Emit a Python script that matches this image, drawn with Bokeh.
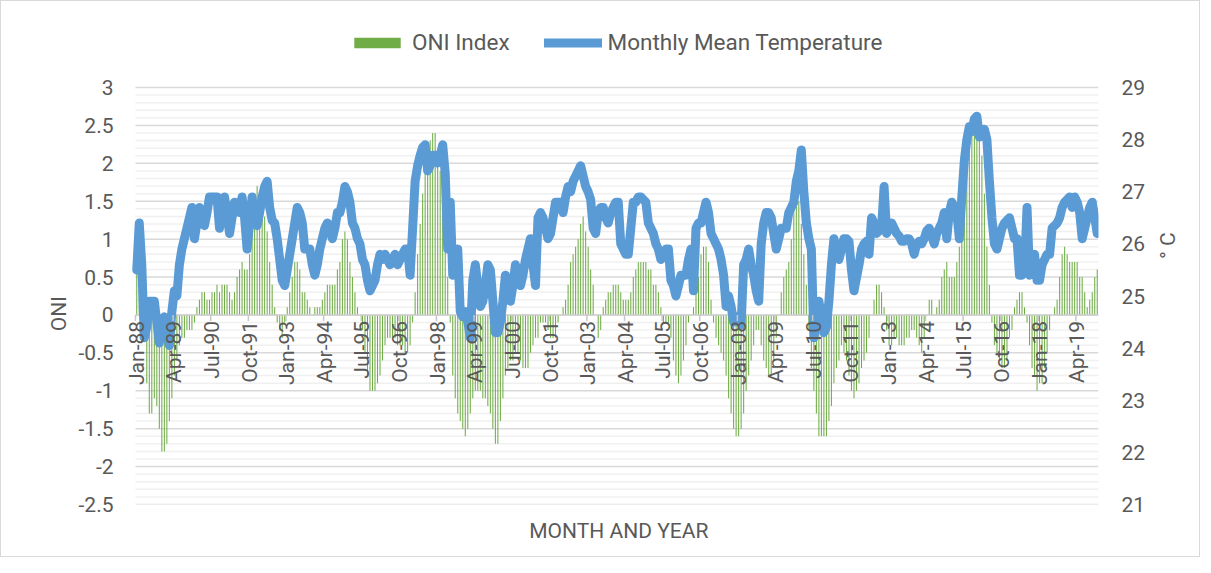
import math
from bokeh.plotting import figure
from bokeh.models import (Range1d, LinearAxis, FixedTicker, LabelSet,
                          Legend, LegendItem, ColumnDataSource)
from bokeh.core.properties import value
from bokeh.embed import file_html
from bokeh.resources import INLINE

# ---------------- data (monthly, Jan-1988 .. Dec-2019) ----------------
oni = [
    0.8, 0.5, 0.1, -0.3, -0.9, -1.3, -1.3, -1.1, -1.2, -1.5, -1.8, -1.8,   # 1988
    -1.7, -1.4, -1.1, -0.8, -0.6, -0.4, -0.3, -0.3, -0.2, -0.2, -0.2, -0.1,  # 1989
    0.1, 0.2, 0.3, 0.3, 0.2, 0.2, 0.3, 0.3, 0.4, 0.3, 0.4, 0.4,            # 1990
    0.4, 0.3, 0.2, 0.3, 0.5, 0.6, 0.7, 0.6, 0.6, 0.8, 1.2, 1.5,            # 1991
    1.7, 1.6, 1.5, 1.3, 1.1, 0.7, 0.4, 0.1, -0.1, -0.2, -0.3, -0.1,        # 1992
    0.1, 0.3, 0.5, 0.7, 0.7, 0.6, 0.3, 0.3, 0.2, 0.1, 0.0, 0.1,            # 1993
    0.1, 0.1, 0.2, 0.3, 0.4, 0.4, 0.4, 0.4, 0.6, 0.7, 1.0, 1.1,            # 1994
    1.0, 0.7, 0.5, 0.3, 0.1, 0.0, -0.2, -0.5, -0.8, -1.0, -1.0, -1.0,      # 1995
    -0.9, -0.8, -0.6, -0.4, -0.3, -0.3, -0.3, -0.3, -0.4, -0.4, -0.4, -0.5,  # 1996
    -0.5, -0.4, -0.1, 0.3, 0.8, 1.2, 1.6, 1.9, 2.1, 2.3, 2.4, 2.4,         # 1997
    2.2, 1.9, 1.4, 1.0, 0.5, -0.1, -0.8, -1.1, -1.3, -1.4, -1.5, -1.6,     # 1998
    -1.5, -1.3, -1.1, -1.0, -1.0, -1.0, -1.1, -1.1, -1.2, -1.3, -1.5, -1.7,  # 1999
    -1.7, -1.4, -1.1, -0.8, -0.7, -0.6, -0.6, -0.5, -0.5, -0.6, -0.7, -0.7,  # 2000
    -0.7, -0.5, -0.4, -0.3, -0.3, -0.1, -0.1, -0.1, -0.2, -0.3, -0.3, -0.3,  # 2001
    -0.1, 0.0, 0.1, 0.2, 0.4, 0.7, 0.8, 0.9, 1.0, 1.2, 1.3, 1.1,           # 2002
    0.9, 0.6, 0.4, 0.0, -0.3, -0.2, 0.1, 0.2, 0.3, 0.3, 0.4, 0.4,          # 2003
    0.4, 0.3, 0.2, 0.2, 0.2, 0.3, 0.5, 0.6, 0.7, 0.7, 0.7, 0.7,            # 2004
    0.6, 0.6, 0.4, 0.4, 0.3, 0.1, -0.1, -0.1, -0.1, -0.3, -0.6, -0.8,      # 2005
    -0.9, -0.8, -0.6, -0.4, -0.1, 0.0, 0.1, 0.3, 0.5, 0.8, 0.9, 0.9,       # 2006
    0.7, 0.2, -0.1, -0.3, -0.4, -0.5, -0.6, -0.8, -1.1, -1.3, -1.5, -1.6,  # 2007
    -1.6, -1.5, -1.3, -1.0, -0.8, -0.6, -0.4, -0.2, -0.2, -0.4, -0.6, -0.7,  # 2008
    -0.8, -0.8, -0.6, -0.3, 0.0, 0.3, 0.5, 0.6, 0.7, 1.0, 1.4, 1.6,        # 2009
    1.5, 1.2, 0.8, 0.4, -0.2, -0.7, -1.0, -1.3, -1.6, -1.6, -1.6, -1.6,    # 2010
    -1.4, -1.2, -0.9, -0.7, -0.6, -0.4, -0.5, -0.6, -0.8, -1.0, -1.1, -1.0,  # 2011
    -0.9, -0.7, -0.6, -0.5, -0.3, 0.0, 0.2, 0.4, 0.4, 0.3, 0.1, -0.2,      # 2012
    -0.4, -0.4, -0.3, -0.3, -0.4, -0.4, -0.4, -0.3, -0.3, -0.2, -0.2, -0.3,  # 2013
    -0.4, -0.5, -0.3, 0.0, 0.2, 0.2, 0.0, 0.1, 0.2, 0.5, 0.6, 0.7,         # 2014
    0.5, 0.5, 0.5, 0.7, 0.9, 1.2, 1.5, 1.9, 2.2, 2.4, 2.6, 2.6,            # 2015
    2.5, 2.1, 1.6, 0.9, 0.4, -0.1, -0.4, -0.5, -0.6, -0.7, -0.7, -0.6,     # 2016
    -0.3, -0.2, 0.1, 0.2, 0.3, 0.3, 0.1, -0.1, -0.4, -0.7, -0.8, -1.0,     # 2017
    -0.9, -0.9, -0.7, -0.5, -0.2, 0.0, 0.1, 0.2, 0.5, 0.8, 0.9, 0.8,       # 2018
    0.7, 0.7, 0.7, 0.7, 0.5, 0.5, 0.3, 0.1, 0.2, 0.3, 0.5, 0.6,            # 2019
]

temperature = [
    25.5, 26.4, 25.6, 24.2, 24.4, 24.9, 24.9, 24.9, 24.5, 24.1, 24.4, 24.6,      # 1988
    24.3, 24.05, 24.7, 25.1, 25.0, 25.6, 25.9, 26.1, 26.3, 26.5, 26.7, 26.1,     # 1989
    26.4, 26.7, 26.6, 26.35, 26.6, 26.9, 26.9, 26.9, 26.9, 26.3, 26.6, 26.9,     # 1990
    26.6, 26.2, 26.5, 26.8, 26.7, 26.6, 26.9, 26.5, 25.9, 26.4, 26.9, 26.4,      # 1991
    26.35, 26.6, 26.9, 27.1, 27.2, 26.7, 26.45, 26.4, 26.1, 25.7, 25.3, 25.2,    # 1992
    25.5, 25.8, 26.1, 26.4, 26.7, 26.6, 26.4, 25.9, 25.9, 25.9, 25.6, 25.4,      # 1993
    25.6, 25.9, 26.1, 26.3, 26.4, 26.3, 26.1, 26.3, 26.6, 26.6, 26.8, 27.1,      # 1994
    27.0, 26.8, 26.4, 26.3, 26.1, 26.0, 25.7, 25.6, 25.3, 25.1, 25.2, 25.3,      # 1995
    25.6, 25.8, 25.7, 25.8, 25.7, 25.6, 25.7, 25.8, 25.6, 25.7, 25.8, 25.9,      # 1996
    25.9, 25.4, 26.3, 27.2, 27.5, 27.7, 27.85, 27.9, 27.4, 27.5, 27.7, 27.7,     # 1997
    27.55, 27.7, 27.9, 27.35, 25.9, 26.8, 25.4, 25.6, 25.9, 24.7, 24.6, 24.7,    # 1998
    24.5, 24.2, 25.3, 25.6, 25.2, 24.8, 24.9, 25.2, 25.6, 25.5, 24.9, 24.3,      # 1999
    24.3, 24.5, 24.9, 25.4, 25.2, 24.9, 25.2, 25.6, 25.4, 25.2, 25.4, 25.7,      # 2000
    25.9, 26.1, 25.6, 25.2, 26.5, 26.6, 26.5, 26.3, 26.1, 26.2, 26.5, 26.8,      # 2001
    26.8, 26.8, 26.6, 26.9, 27.1, 27.0, 27.2, 27.3, 27.4, 27.5, 27.3, 27.1,      # 2002
    27.0, 26.85, 26.3, 26.2, 26.6, 26.7, 26.7, 26.5, 26.4, 26.6, 26.7, 26.8,     # 2003
    26.8, 26.0, 25.9, 25.8, 25.8, 26.3, 26.8, 26.8, 26.9, 26.9, 26.85, 26.8,     # 2004
    26.4, 26.3, 26.2, 26.0, 25.9, 25.7, 25.8, 25.9, 25.9, 25.3, 25.2, 25.0,      # 2005
    25.2, 25.4, 25.4, 25.4, 25.7, 25.9, 25.1, 26.3, 26.4, 26.4, 26.6, 26.8,      # 2006
    26.6, 26.2, 26.1, 26.0, 25.9, 25.7, 25.4, 24.8, 25.0, 24.8, 24.5, 24.6,      # 2007
    24.6, 24.45, 25.6, 25.7, 25.9, 25.6, 25.4, 25.1, 24.9, 26.0, 26.4, 26.6,     # 2008
    26.6, 26.5, 26.2, 25.9, 26.1, 26.3, 26.3, 26.3, 26.6, 26.7, 26.8, 27.2,      # 2009
    27.4, 27.8, 27.0, 26.4, 26.1, 25.9, 24.2, 24.5, 24.9, 24.6, 24.3, 24.4,      # 2010
    24.9, 25.6, 26.1, 25.9, 25.7, 25.9, 26.1, 26.1, 26.05, 25.5, 25.1, 25.35,    # 2011
    25.6, 25.9, 26.0, 26.05, 25.8, 26.5, 26.4, 26.2, 26.25, 26.3, 27.1, 26.2,    # 2012
    26.3, 26.4, 26.3, 26.2, 26.15, 26.05, 26.05, 26.1, 26.1, 26.0, 25.8, 26.0,   # 2013
    26.05, 26.0, 26.1, 26.25, 26.3, 26.15, 26.0, 26.2, 26.3, 26.4, 26.6, 26.1,   # 2014
    26.6, 26.8, 26.7, 26.6, 26.1, 26.9, 27.6, 28.0, 28.25, 28.15, 28.4, 28.45,   # 2015
    28.05, 28.1, 28.2, 28.0, 27.2, 26.5, 26.0, 25.9, 26.1, 26.3, 26.4, 26.45,    # 2016
    26.5, 26.3, 26.1, 26.1, 25.4, 25.4, 25.5, 26.7, 25.4, 25.7, 25.8, 25.3,      # 2017
    25.3, 25.6, 25.7, 25.8, 25.8, 26.3, 26.35, 26.4, 26.5, 26.7, 26.8, 26.85,    # 2018
    26.9, 26.7, 26.9, 26.8, 26.6, 26.1, 26.3, 26.5, 26.7, 26.8, 26.5, 26.2,      # 2019
]

tick_labels = ["Jan-88", "Apr-89", "Jul-90", "Oct-91", "Jan-93", "Apr-94", "Jul-95",
               "Oct-96", "Jan-98", "Apr-99", "Jul-00", "Oct-01", "Jan-03", "Apr-04",
               "Jul-05", "Oct-06", "Jan-08", "Apr-09", "Jul-10", "Oct-11", "Jan-13",
               "Apr-14", "Jul-15", "Oct-16", "Jan-18", "Apr-19"]
tick_step = 15

oni_ticks = [-2.5, -2, -1.5, -1, -0.5, 0, 0.5, 1, 1.5, 2, 2.5, 3]
oni_tick_labels = ["-2.5", "-2", "-1.5", "-1", "-0.5", "0", "0.5", "1", "1.5", "2", "2.5", "3"]
temp_ticks = [21, 22, 23, 24, 25, 26, 27, 28, 29]

# ---------------- styling / geometry ----------------
FONT = "Roboto"
TXT = "#595959"
GREEN = "#70AD47"
BLUE = "#5B9BD5"
NBSP = "\u00a0"

n = len(oni)
idx = list(range(n))
ONI_MIN, ONI_MAX = -2.5, 3.0
T_MIN, T_MAX = 21.0, 29.0

PLOT_W, PLOT_H = 963, 417            # pixel size of the gridded area
PX_PER_CAT = PLOT_W / n
PX_PER_ONI = PLOT_H / (ONI_MAX - ONI_MIN)
PX_PER_T = PLOT_H / (T_MAX - T_MIN)
EXTRA_LEFT = 12                      # room so the first rotated label is not clipped
EXTRA_TOP = 74                       # room for the legend inside the frame
FIG_W, FIG_H = 1200, 557
BORDER_L, BORDER_T, BORDER_B = 134 - EXTRA_LEFT, 86 - EXTRA_TOP, 54
BORDER_R = FIG_W - BORDER_L - EXTRA_LEFT - PLOT_W

x_start = -0.5 - EXTRA_LEFT / PX_PER_CAT
p = figure(width=FIG_W, height=FIG_H,
           x_range=Range1d(x_start, n - 0.5),
           y_range=Range1d(ONI_MIN, ONI_MAX + EXTRA_TOP / PX_PER_ONI),
           x_axis_location=None, y_axis_location="left",
           output_backend="svg", toolbar_location=None,
           min_border_left=BORDER_L, min_border_right=BORDER_R,
           min_border_top=BORDER_T, min_border_bottom=BORDER_B)
p.extra_y_ranges = {"temp": Range1d(T_MIN, T_MAX + EXTRA_TOP / PX_PER_T)}
p.outline_line_color = None
p.background_fill_color = "white"
p.border_fill_color = "white"
p.styles = {"border": "1px solid #D9D9D9"}
p.ygrid.grid_line_color = None
for g in p.xgrid:
    g.grid_line_color = None

# gridlines limited to the value range
minor = [round(ONI_MIN + k * 0.1, 1) for k in range(56) if k % 5 != 0]
p.segment(x0=[-0.5] * len(minor), x1=[n - 0.5] * len(minor), y0=minor, y1=minor,
          line_color="#F0F0F0", line_width=1.5)
p.segment(x0=[-0.5] * len(oni_ticks), x1=[n - 0.5] * len(oni_ticks),
          y0=oni_ticks, y1=oni_ticks, line_color="#D9D9D9", line_width=1.5)


def style_axis(a, standoff):
    a.axis_line_color = None
    a.major_tick_line_color = None
    a.minor_tick_line_color = None
    a.major_tick_out = 0
    a.major_tick_in = 0
    a.minor_tick_out = 0
    a.minor_tick_in = 0
    a.major_label_standoff = standoff
    a.major_label_text_font = FONT
    a.major_label_text_font_size = "21px"
    a.major_label_text_color = TXT
    a.axis_label_text_font = FONT
    a.axis_label_text_font_size = "21px"
    a.axis_label_text_font_style = "normal"
    a.axis_label_text_color = TXT


# left axis
ax = p.yaxis[0]
ax.ticker = FixedTicker(ticks=oni_ticks)
ax.major_label_overrides = {t: s for t, s in zip(oni_ticks, oni_tick_labels)}
ax.bounds = (ONI_MIN, ONI_MAX)
ax.axis_label = "ONI" + NBSP * 21     # trailing space lowers the centred title
ax.axis_label_standoff = 5
style_axis(ax, 10)

# right axis
rax = LinearAxis(y_range_name="temp", ticker=FixedTicker(ticks=temp_ticks),
                 bounds=(T_MIN, T_MAX), axis_label_standoff=20)
style_axis(rax, 23)
if "axis_label_orientation" in rax.properties():
    rax.axis_label_orientation = -1.5 * math.pi
    rax.axis_label = "° C" + NBSP * 5
else:
    rax.axis_label = NBSP * 14 + "° C"
p.add_layout(rax, "right")

# bottom title axis (no ticks)
bax = LinearAxis(ticker=FixedTicker(ticks=[]), bounds=(-0.5, n - 0.5),
                 axis_label=NBSP * 3 + "MONTH AND YEAR", axis_label_standoff=14)
style_axis(bax, 0)
bax.major_label_text_font_size = "0px"
p.add_layout(bax, "below")

# data
src = ColumnDataSource(dict(x=idx, oni=oni, temp=temperature))
bars = p.vbar(x="x", top="oni", bottom=0, width=0.42, source=src,
              fill_color=GREEN, line_color=None)
p.line(x=[-0.5, n - 0.5], y=[0, 0], line_color="#D0D0D0", line_width=1.5)
line = p.line(x="x", y="temp", source=src, y_range_name="temp",
              line_color=BLUE, line_width=9, line_join="round", line_cap="round")

# category tick marks and rotated labels at the zero line
tick_pos = [i * tick_step for i in range(len(tick_labels))]
p.segment(x0=[t - 0.5 for t in tick_pos], x1=[t - 0.5 for t in tick_pos],
          y0=[0] * len(tick_pos), y1=[-6 / PX_PER_ONI] * len(tick_pos),
          line_color="#C8C8C8", line_width=1.5)
lab_src = ColumnDataSource(dict(x=tick_pos, y=[-6 / PX_PER_ONI] * len(tick_pos),
                                text=tick_labels))
p.add_layout(LabelSet(x="x", y="y", text="text", source=lab_src,
                      angle=math.pi / 2, text_align="right", text_baseline="middle",
                      text_font=value(FONT), text_font_size="21px", text_color=TXT))

# legend (inside the extended top of the frame)
legend = Legend(items=[LegendItem(label="ONI Index", renderers=[bars]),
                       LegendItem(label="Monthly Mean Temperature", renderers=[line])],
                orientation="horizontal", location=(355 - 130, 449),
                padding=0, margin=0, spacing=34, label_standoff=6,
                glyph_width=58, glyph_height=13, label_height=26,
                label_text_font=FONT, label_text_font_size="22.5px",
                label_text_color=TXT, border_line_color=None,
                background_fill_alpha=0)
p.add_layout(legend, "center")

open("out.html", "w").write(file_html(p, INLINE))
